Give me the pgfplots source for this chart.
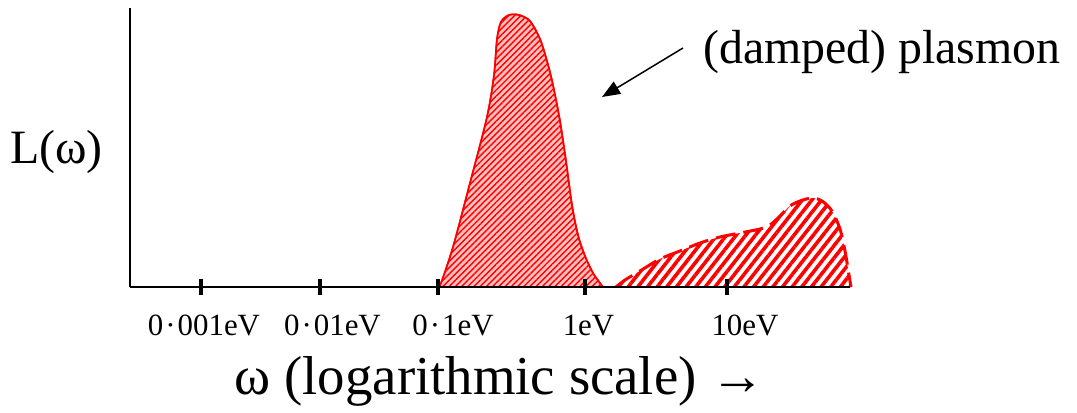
\documentclass[border=0pt]{standalone}
\usepackage{fontspec}
\setmainfont{Liberation Serif}
\usepackage{pgfplots}
\pgfplotsset{compat=1.18}
\usetikzlibrary{patterns.meta,arrows.meta}

% x in "pixel" units along the drawn axis, y = height above the baseline
\pgfplotstableread{
x    y
438  0
441  4
453  40
470  104
487  170
494  212
497  248
501  265
509  272
519  272
530  266
540  248
547  226
553  202
560  166
566  126
572  82
578  52
585  31
593  14
600  4
603  0
}\plasmon

\pgfplotstableread{
x    y
616  0
625  7
640  16
660  28
680  36
700  44
720  50
740  54
760  58
770  62
780  71
790  81
800  86
812  89
822  86
832  76
840  58
845  36
849  12
851  0
}\interband

\newcommand{\dt}{\kern1bp·\kern1bp}

\begin{document}
\begin{tikzpicture}
\begin{axis}[
    scale only axis,
    width=360bp, height=139.5bp,
    xmin=130, xmax=850, ymin=0, ymax=279,
    axis x line*=bottom, axis y line*=left,
    axis line style={line width=1bp},
    axis on top,
    clip=false,
    ytick=\empty,
    xtick={201,320,438,585,727},
    xticklabels={{\kern3bp 0\dt001eV},{\kern12.5bp 0\dt01eV},{\kern15bp 0\dt1eV},{\kern3.5bp 1eV},{\kern18bp 10eV}},
    tick align=center,
    major tick length=8bp,
    every tick/.style={black, line width=2bp},
    xticklabel style={font=\fontsize{15.5}{19}\selectfont, yshift=-6.5bp},
]
\addplot[draw=red, line width=0.8bp, fill=red!25,
         postaction={pattern={Lines[angle=45,distance=2.2bp,line width=0.7bp]}, pattern color=red},
         smooth, tension=0.5] table {\plasmon} \closedcycle;
\addplot[draw=none, pattern={Lines[angle=52,distance=3.8bp,line width=1.8bp]}, pattern color=red,
         smooth, tension=0.5] table {\interband} \closedcycle;
\addplot[red, line width=1.5bp, dash pattern=on 10bp off 4bp, smooth, tension=0.5] table {\interband};

\node[font=\fontsize{24}{29}\selectfont, inner sep=0pt, anchor=base] at (axis cs:56.5,124) {L(ω)};
\node[font=\fontsize{24}{29}\selectfont, inner sep=0pt, anchor=base west] at (axis cs:703,223) {(damped) plasmon};
\draw[line width=0.75bp, -{Triangle[length=9bp,width=7bp]}] (axis cs:683,239) -- (axis cs:602,190);
\node[font=\fontsize{27.5}{33}\selectfont, inner sep=0pt, anchor=base] at (axis cs:500,-107) {ω (logarithmic scale) →};
\path (axis cs:0,287) rectangle (axis cs:1077,-125);
\end{axis}
\end{tikzpicture}
\end{document}
